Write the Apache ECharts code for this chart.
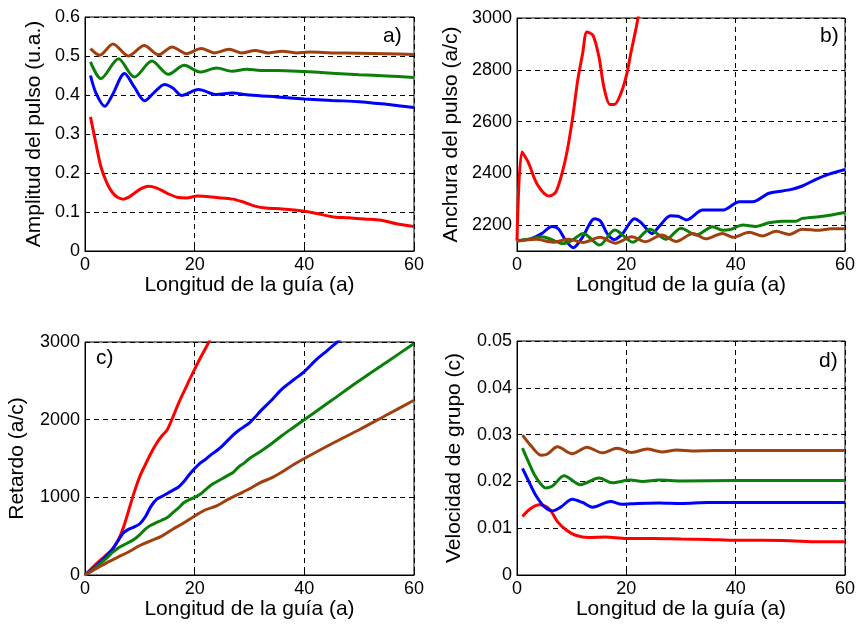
<!DOCTYPE html>
<html>
<head>
<meta charset="utf-8">
<script src="https://cdn.jsdelivr.net/npm/echarts@6/dist/echarts.min.js"></script>
<style>
  html, body { margin: 0; padding: 0; background: #fff; }
  #chart { width: 858px; height: 624px; }
</style>
</head>
<body>
<div id="chart"></div>
<script>
// a) amplitud del pulso (u.a.)
var ampRed = [[1,0.344],[2,0.275],[2.9,0.216],[4,0.174],[5,0.150],[6,0.137],[7,0.133],[8,0.138],[9,0.148],[10,0.158],[11.5,0.166],[13,0.162],[15,0.148],[17,0.137],[18.5,0.136],[20.5,0.141],[24,0.137],[27,0.133],[29,0.125],[31,0.115],[33,0.110],[36,0.108],[39,0.104],[42,0.097],[45,0.088],[48,0.085],[51,0.082],[54,0.079],[57,0.069],[60,0.063]];
var ampBlue = [[1,0.450],[2,0.405],[3.6,0.371],[5,0.400],[7.2,0.455],[9,0.420],[10.9,0.385],[12.5,0.405],[14.5,0.427],[16,0.418],[17.6,0.399],[20.7,0.414],[24,0.401],[26.8,0.405],[30,0.400],[35,0.395],[40,0.390],[45,0.386],[50,0.383],[55,0.376],[60,0.368]];
var ampGreen = [[1,0.485],[2.9,0.442],[6.1,0.493],[9,0.446],[12.2,0.487],[15.2,0.453],[18.1,0.476],[21,0.459],[24,0.469],[26.8,0.461],[29.5,0.466],[32,0.463],[35,0.463],[40,0.460],[45,0.456],[50,0.452],[55,0.449],[60,0.445]];
var ampBrown = [[1,0.519],[2.7,0.502],[5.1,0.531],[7.9,0.500],[10.8,0.527],[13.4,0.503],[15.9,0.523],[18.5,0.506],[21.2,0.519],[23.6,0.508],[26.3,0.517],[28.6,0.508],[31,0.514],[33.5,0.508],[36,0.512],[38.5,0.508],[41,0.510],[45,0.508],[50,0.507],[55,0.506],[60,0.504]];

// b) anchura del pulso (a/c)
var widRed = [[0,2140],[0.9,2482],[2,2445],[3.8,2354],[5.9,2312],[7.1,2328],[8.3,2405],[9.2,2489],[10.2,2618],[11.1,2759],[12,2862],[12.8,2946],[13.9,2933],[15,2849],[15.9,2733],[17,2666],[17.8,2666],[19.1,2714],[20.1,2785],[20.8,2862],[21.7,2952],[22.4,3030],[23,3100]];
var widBlue = [[0,2140],[2.5,2147],[4.5,2167],[6.4,2195],[7.6,2185],[8.9,2141],[10.3,2113],[12,2154],[14.2,2225],[15.3,2215],[16.5,2167],[17.8,2144],[19.3,2167],[21.5,2225],[22.7,2210],[24.7,2167],[26,2195],[28.1,2236],[29.5,2234],[31,2220],[34,2258],[37.6,2258],[40.7,2290],[43.1,2290],[46.1,2323],[49.8,2336],[52.2,2351],[54.7,2377],[57.1,2397],[60,2415]];
var widGreen = [[0,2140],[2,2145],[4.5,2155],[6.5,2143],[8.3,2128],[10,2140],[12.1,2168],[15.1,2123],[17.9,2181],[21.2,2134],[24.3,2184],[27.3,2145],[30,2188],[32.8,2162],[35.8,2194],[37.6,2180],[39,2183],[41.3,2200],[43.7,2195],[46.1,2209],[48.5,2215],[51,2215],[52.2,2226],[55.9,2234],[60,2249]];
var widBrown = [[0,2138],[3.5,2145],[6.6,2134],[9.5,2145],[12.1,2133],[15.2,2153],[18,2130],[21,2155],[23.5,2136],[26.5,2162],[29.1,2137],[32.2,2168],[34.5,2147],[37.6,2168],[39.5,2153],[42.5,2172],[44.9,2158],[47.4,2176],[49.8,2164],[52.2,2184],[55.3,2180],[57.5,2186],[60,2186]];
var widTicks = [2200, 2400, 2600, 2800, 3000];

// c) retardo (a/c)
var delRed = [[0,0],[1,70],[2,140],[3,205],[4,265],[5,335],[6,440],[7,610],[8,840],[9,1070],[10,1270],[11,1420],[12,1565],[13,1690],[14,1790],[15,1870],[16,2030],[17,2200],[18,2355],[19,2505],[20,2650],[21,2790],[22,2920],[23,3060]];
var delBlue = [[0,0],[1,55],[2,115],[3,180],[4,250],[5,330],[6,440],[7,540],[8,590],[9,620],[10,660],[11,750],[12,880],[13,970],[14,1010],[15,1050],[16,1090],[17,1130],[18,1200],[19,1290],[20,1370],[21,1440],[22,1490],[23,1550],[24,1600],[25,1660],[26,1730],[27,1800],[28,1860],[29,1910],[30,1960],[31,2030],[32,2110],[34,2250],[36,2400],[38,2510],[40,2620],[42,2760],[44,2880],[46,3000],[47,3060]];
var delGreen = [[0,0],[1,45],[2,100],[3,160],[4,220],[5,290],[6,345],[7,385],[8,420],[9,460],[10,520],[11,590],[12,640],[13,675],[14,705],[15,740],[16,800],[17,860],[18,930],[19,970],[20,1000],[21,1040],[22,1100],[23,1160],[24,1200],[25,1240],[26,1280],[27,1320],[28,1390],[29,1440],[30,1500],[32,1590],[34,1690],[36,1800],[38,1900],[40,2000],[45,2250],[50,2500],[55,2740],[60,2980]];
var delBrown = [[0,0],[2,80],[4,160],[6,230],[8,300],[10,380],[12,440],[14,500],[16,590],[18,670],[20,760],[22,840],[24,890],[26,970],[28,1040],[30,1110],[32,1190],[34,1250],[36,1330],[38,1420],[40,1500],[45,1690],[50,1870],[55,2060],[60,2250]];

// d) velocidad de grupo (c)
var velRed = [[1,0.0125],[2.5,0.0142],[4.1,0.0150],[5.9,0.0141],[7.4,0.0114],[9,0.0096],[10.7,0.0085],[13.1,0.0080],[16.2,0.0081],[20,0.0078],[25,0.0078],[30,0.0077],[35,0.0076],[40,0.0074],[45,0.0074],[50,0.0073],[55,0.0071],[60,0.0071]];
var velBlue = [[1,0.0228],[2.2,0.0199],[3.4,0.0171],[5,0.0146],[6.5,0.0137],[8,0.0145],[10.1,0.0162],[12,0.0155],[13.8,0.0145],[17.1,0.0157],[19.2,0.0151],[22,0.0153],[26,0.0154],[30,0.0153],[35,0.0155],[45,0.0155],[60,0.0155]];
var velGreen = [[1,0.0271],[2.2,0.0239],[3.4,0.0210],[5.3,0.0186],[6.5,0.0190],[8.6,0.0212],[11.6,0.0193],[15,0.0207],[17.4,0.0197],[20.7,0.0203],[23,0.0200],[26,0.0203],[30,0.0201],[40,0.0202],[50,0.0202],[60,0.0202]];
var velBrown = [[1,0.0299],[2.5,0.0277],[4.4,0.0256],[5.5,0.0258],[7.4,0.0274],[10.1,0.0259],[12.8,0.0273],[15.6,0.0261],[18.3,0.0271],[21,0.0262],[23.8,0.0269],[26.5,0.0263],[29.2,0.0267],[32,0.0265],[36,0.0266],[40,0.0266],[50,0.0266],[60,0.0266]];

var colores = ['#ff0000', '#0000ff', '#0a800a', '#a0400f'];
var FONT = '"Liberation Sans", Arial, sans-serif';

var paneles = [
    {grid: {left: 85, top: 17, width: 329, height: 234}, yName: 'Amplitud del pulso (u.a.)', nameGap: 40,
     y: {min: 0, max: 0.6, interval: 0.1}, datos: [ampRed, ampBlue, ampGreen, ampBrown]},
    {grid: {left: 517, top: 18, width: 329, height: 233}, yName: 'Anchura del pulso (a/c)', nameGap: 55,
     y: {min: 2100, max: 3000, interval: 100, ticks: widTicks}, datos: [widRed, widBlue, widGreen, widBrown]},
    {grid: {left: 85, top: 342, width: 329, height: 233}, yName: 'Retardo (a/c)', nameGap: 57,
     y: {min: 0, max: 3000, interval: 1000}, datos: [delRed, delBlue, delGreen, delBrown]},
    {grid: {left: 517, top: 341, width: 330, height: 234}, yName: 'Velocidad de grupo (c)', nameGap: 52,
     y: {min: 0, max: 0.05, interval: 0.01}, datos: [velRed, velBlue, velGreen, velBrown]}
];

// sin separador de miles, como en el original
function etiqueta(v) {
    return String(+Number(v).toFixed(4));
}

var dashed = {color: '#000', type: [5, 4], width: 1};
var grids = [], xAxes = [], yAxes = [], series = [];

paneles.forEach(function (p, i) {
    grids.push(Object.assign({show: true, borderColor: '#000', borderWidth: 1, backgroundColor: '#fff'}, p.grid));
    xAxes.push({
        type: 'value', gridIndex: i, min: 0, max: 60, interval: 20,
        name: 'Longitud de la guía (a)', nameLocation: 'middle', nameGap: 24,
        nameTextStyle: {fontSize: 21, color: '#000', fontFamily: FONT},
        axisLine: {onZero: false, lineStyle: {color: '#000', width: 1}},
        axisTick: {inside: true, length: 5, lineStyle: {color: '#000'}},
        axisLabel: {fontSize: 18, color: '#000', margin: 5, fontFamily: FONT, formatter: etiqueta},
        splitLine: {show: true, lineStyle: dashed}
    });
    var y = {
        type: 'value', gridIndex: i, min: p.y.min, max: p.y.max, interval: p.y.interval,
        name: p.yName, nameLocation: 'middle', nameGap: p.nameGap,
        nameTextStyle: {fontSize: 21, color: '#000', fontFamily: FONT},
        axisLine: {onZero: false, lineStyle: {color: '#000', width: 1}},
        axisTick: {inside: true, length: 5, lineStyle: {color: '#000'}},
        axisLabel: {fontSize: 18, color: '#000', margin: 5, fontFamily: FONT, formatter: etiqueta},
        splitLine: {show: true, lineStyle: dashed}
    };
    if (p.y.ticks) {
        y.axisTick.customValues = p.y.ticks;
        y.axisLabel.customValues = p.y.ticks;
    }
    yAxes.push(y);
    p.datos.forEach(function (d, k) {
        series.push({
            type: 'line', xAxisIndex: i, yAxisIndex: i, data: d,
            symbol: 'none', smooth: 0.3, clip: true,
            lineStyle: {color: colores[k], width: 3},
            itemStyle: {color: colores[k]}
        });
    });
});

var letras = [
    {text: 'a)', left: 383, top: 26},
    {text: 'b)', left: 820, top: 26},
    {text: 'c)', left: 96, top: 348},
    {text: 'd)', left: 819, top: 351}
];

var myChart = echarts.init(document.getElementById('chart'), null, {renderer: 'canvas'});
myChart.setOption({
    animation: false,
    backgroundColor: '#fff',
    grid: grids,
    xAxis: xAxes,
    yAxis: yAxes,
    series: series,
    graphic: letras.map(function (l) {
        return {type: 'text', left: l.left, top: l.top, z: 100,
                style: {text: l.text, fill: '#000', font: '21px ' + FONT}};
    })
});
</script>
</body>
</html>
